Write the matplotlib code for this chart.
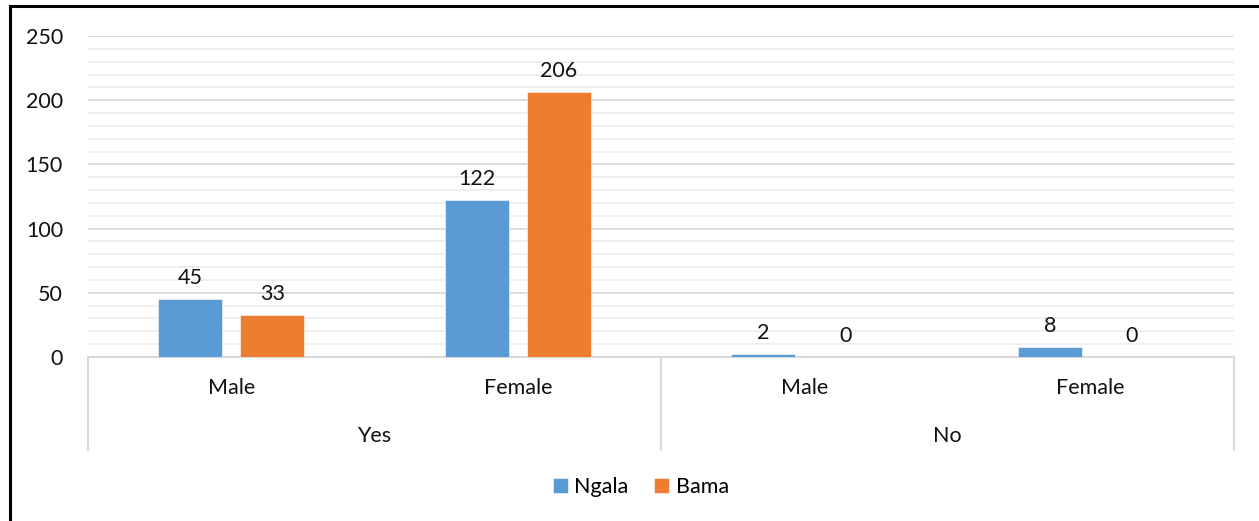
import numpy as np
import matplotlib
matplotlib.use('Agg')
import matplotlib.pyplot as plt
import matplotlib.transforms as mtransforms
from matplotlib.lines import Line2D

plt.rcParams['font.family'] = ['Lato', 'DejaVu Sans']
FS = 15.5

# ── DATA ──
groups = ['Yes', 'No']
sexes = ['Male', 'Female']
ngala = [45, 122, 2, 8]
bama = [33, 206, 0, 0]
series_names = ['Ngala', 'Bama']
colors = ['#5B9BD5', '#ED7D31']

fig = plt.figure(figsize=(12.59, 5.21), dpi=100)
ax = fig.add_axes([88 / 1259, 1 - 357 / 521, 1146 / 1259, 321 / 521])

n_cat = len(groups) * len(sexes)
x = np.arange(n_cat) + 0.5
w = 0.223
off = 0.143

b1 = ax.bar(x - off, ngala, w, color=colors[0], label=series_names[0],
            edgecolor='white', linewidth=0.4, zorder=3)
b2 = ax.bar(x + off, bama, w, color=colors[1], label=series_names[1],
            edgecolor='white', linewidth=0.4, zorder=3)

for bars, vals in [(b1, ngala), (b2, bama)]:
    for rect, v in zip(bars, vals):
        ax.annotate(str(v), (rect.get_x() + rect.get_width() / 2, v),
                    xytext=(0, 8), textcoords='offset points',
                    ha='center', va='bottom', fontsize=FS, color='#111111')

# gridlines: minor every 10, major every 50
for yv in range(10, 251, 10):
    major = yv % 50 == 0
    ax.axhline(yv, color='#d9d9d9' if major else '#eeeeee',
               lw=1.3, zorder=1)

ax.set_xlim(0, n_cat)
ax.set_ylim(0, 250)
ax.set_yticks(range(0, 251, 50))
ax.set_xticks([])
ax.tick_params(axis='y', length=0, pad=18, labelsize=FS, labelcolor='#111111')
for s in ax.spines.values():
    s.set_visible(False)

# two-level category axis
trans = mtransforms.blended_transform_factory(ax.transData, ax.transAxes)
ax.plot([0, n_cat], [0, 0], transform=trans, color='#d9d9d9', lw=1.5,
        clip_on=False, zorder=2)
for xv in [0, 2, 4]:
    ax.plot([xv, xv], [0, -0.29], transform=trans, color='#d9d9d9', lw=1.5,
            clip_on=False)
for i, xc in enumerate(x):
    ax.text(xc, -0.097, sexes[i % 2], transform=trans, ha='center',
            va='center', fontsize=FS, color='#111111')
for j, g in enumerate(groups):
    ax.text(2 * j + 1, -0.246, g, transform=trans, ha='center',
            va='center', fontsize=FS, color='#111111')

fig.legend(handles=[b1, b2], labels=series_names, loc='center',
           bbox_to_anchor=(0.509, 0.065), ncol=2, frameon=False,
           fontsize=FS, handlelength=0.7, handleheight=0.7,
           handletextpad=0.3, columnspacing=1.2)

# outer frame (left and top edges)
fig.add_artist(Line2D([10 / 1259, 10 / 1259], [0, 1 - 6 / 521],
                      color='black', lw=2.2, transform=fig.transFigure))
fig.add_artist(Line2D([10 / 1259, 1], [1 - 6 / 521, 1 - 6 / 521],
                      color='black', lw=2.2, transform=fig.transFigure))

fig.savefig('out.png', dpi=100)
